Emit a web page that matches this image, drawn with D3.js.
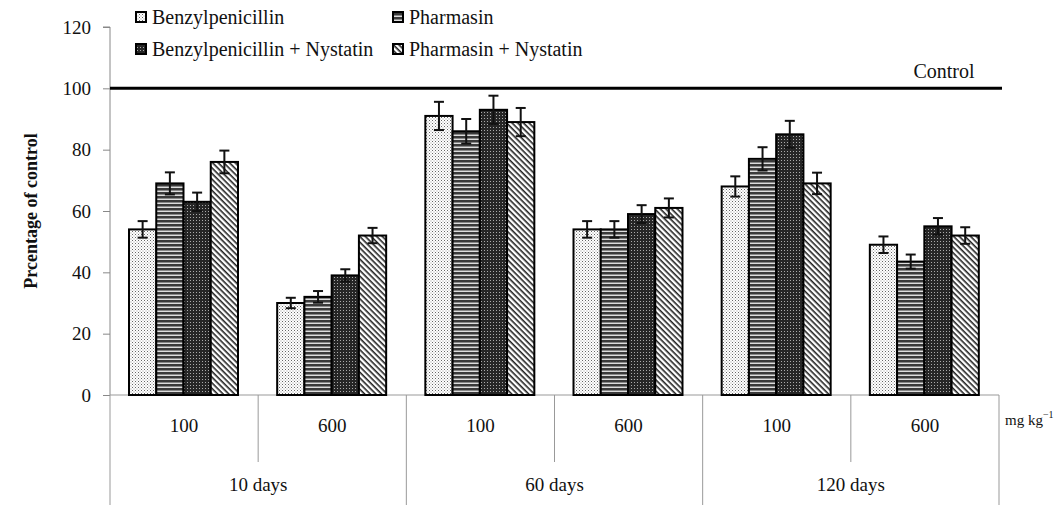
<!DOCTYPE html>
<html>
  <head>
    <meta charset="utf-8">
    <title>Percentage of control</title>
    <script src="https://d3js.org/d3.v7.min.js"></script>
    <style>
      body { margin: 0; background: #fff; }
      svg text { font-family: "Liberation Serif", "DejaVu Serif", serif; fill: #111; }
    </style>
  </head>
  <body>
    <div class="chart"></div>
    <script>
      // categories
      var doses = ["100", "600", "100", "600", "100", "600"];
      var periods = ["10 days", "60 days", "120 days"];
      var seriesNames = ["Benzylpenicillin", "Pharmasin", "Benzylpenicillin + Nystatin", "Pharmasin + Nystatin"];
      var yTicks = [0, 20, 40, 60, 80, 100, 120];
      var controlValue = 100;

      // series values (percentage of control)
      var benzyl = [54, 30, 91, 54, 68, 49];
      var pharmasin = [69, 32, 86, 54, 77, 43.5];
      var benzylNys = [63, 39, 93, 59, 85, 55];
      var pharmasinNys = [76, 52, 89, 61, 69, 52];

      // error bars (+/-)
      var benzylErr = [2.7, 1.7, 4.6, 2.7, 3.3, 2.7];
      var pharmasinErr = [3.6, 1.9, 4.0, 2.7, 3.8, 2.3];
      var benzylNysErr = [3.0, 2.0, 4.6, 2.9, 4.4, 2.7];
      var pharmasinNysErr = [3.7, 2.5, 4.6, 3.1, 3.5, 2.7];

      var values = [benzyl, pharmasin, benzylNys, pharmasinNys];
      var errors = [benzylErr, pharmasinErr, benzylNysErr, pharmasinNysErr];

      var svg = d3.select("div.chart").append("svg")
        .attr("width", 1058)
        .attr("height", 505);

      // fill patterns
      var defs = svg.append("defs");
      var p0 = defs.append("pattern").attr("id", "pat0").attr("width", 3).attr("height", 3)
        .attr("patternUnits", "userSpaceOnUse");
      p0.append("rect").attr("width", 3).attr("height", 3).attr("fill", "#fff");
      p0.append("rect").attr("width", 1).attr("height", 1).attr("fill", "#666");
      p0.append("rect").attr("x", 1.5).attr("y", 1.5).attr("width", 1).attr("height", 1).attr("fill", "#999");

      var p1 = defs.append("pattern").attr("id", "pat1").attr("width", 4).attr("height", 4)
        .attr("patternUnits", "userSpaceOnUse");
      p1.append("rect").attr("width", 4).attr("height", 4).attr("fill", "#ddd");
      p1.append("rect").attr("width", 4).attr("height", 2).attr("fill", "#3a3a3a");
      p1.append("rect").attr("y", 2).attr("width", 4).attr("height", 1).attr("fill", "#888");

      var p2 = defs.append("pattern").attr("id", "pat2").attr("width", 3).attr("height", 3)
        .attr("patternUnits", "userSpaceOnUse");
      p2.append("rect").attr("width", 3).attr("height", 3).attr("fill", "#262626");
      p2.append("rect").attr("x", 1).attr("y", 1).attr("width", 1).attr("height", 1).attr("fill", "#aaa");

      var p3 = defs.append("pattern").attr("id", "pat3").attr("width", 4).attr("height", 4)
        .attr("patternUnits", "userSpaceOnUse").attr("patternTransform", "rotate(45)");
      p3.append("rect").attr("width", 4).attr("height", 4).attr("fill", "#fff");
      p3.append("rect").attr("width", 4).attr("height", 1.6).attr("fill", "#222");

      var plotLeft = 110, plotRight = 999, plotTop = 27, plotBottom = 395;

      var y = d3.scaleLinear().domain([0, 120]).range([plotBottom, plotTop]);
      var x0 = d3.scaleBand().domain(d3.range(doses.length)).range([plotLeft, plotRight]).padding(0);
      var x1 = d3.scaleBand().domain(d3.range(seriesNames.length)).range([19, 128]).padding(0);

      // y axis
      var yAxis = svg.append("g")
        .attr("transform", "translate(" + plotLeft + ",0)")
        .call(d3.axisLeft(y).tickValues(yTicks).tickSize(7).tickPadding(12));
      yAxis.selectAll("path, line").attr("stroke", "#888");
      yAxis.select(".domain").attr("d", "M0," + plotBottom + "V" + plotTop + "H-7");
      yAxis.selectAll("text").style("font-size", "19px").attr("fill", "#111")
        .style("font-family", "Liberation Serif");

      svg.append("text")
        .attr("transform", "translate(37," + ((plotTop + plotBottom) / 2) + ") rotate(-90)")
        .attr("text-anchor", "middle")
        .style("font-size", "18px")
        .style("font-weight", "bold")
        .text("Prcentage of control");

      // x axis line and category separators
      svg.append("line").attr("x1", plotLeft).attr("x2", plotRight)
        .attr("y1", plotBottom).attr("y2", plotBottom).attr("stroke", "#999");

      var doseIdx = d3.range(doses.length);
      svg.selectAll(".dsep").data(doseIdx.filter(function (i) { return i % 2 === 1; }))
        .enter().append("line")
        .attr("x1", function (i) { return x0(i); }).attr("x2", function (i) { return x0(i); })
        .attr("y1", plotBottom).attr("y2", 462).attr("stroke", "#999");

      svg.selectAll(".psep").data(d3.range(periods.length + 1))
        .enter().append("line")
        .attr("x1", function (i) { return i < periods.length ? x0(i * 2) : plotRight; })
        .attr("x2", function (i) { return i < periods.length ? x0(i * 2) : plotRight; })
        .attr("y1", plotBottom).attr("y2", 505).attr("stroke", "#999");

      svg.selectAll(".dlab").data(doses).enter().append("text")
        .attr("x", function (d, i) { return x0(i) + x0.bandwidth() / 2; })
        .attr("y", 432)
        .attr("text-anchor", "middle")
        .style("font-size", "19px")
        .text(function (d) { return d; });

      svg.selectAll(".plab").data(periods).enter().append("text")
        .attr("x", function (d, i) { return x0(i * 2) + x0.bandwidth(); })
        .attr("y", 491)
        .attr("text-anchor", "middle")
        .style("font-size", "19px")
        .text(function (d) { return d; });

      var unit = svg.append("text").attr("x", 1005).attr("y", 425).style("font-size", "15px");
      unit.append("tspan").text("mg kg");
      unit.append("tspan").attr("dy", -7).style("font-size", "10px").text("\u22121");

      // bars
      var groups = svg.selectAll(".series").data(values).enter().append("g");
      groups.selectAll("rect").data(function (d, s) {
        return d.map(function (v, i) { return { s: s, i: i, v: v }; });
      }).enter().append("rect")
        .attr("x", function (d) { return x0(d.i) + x1(d.s); })
        .attr("y", function (d) { return y(d.v); })
        .attr("width", x1.bandwidth())
        .attr("height", function (d) { return y(0) - y(d.v); })
        .attr("fill", function (d) { return "url(#pat" + d.s + ")"; })
        .attr("stroke", "#000")
        .attr("stroke-width", 2);

      // error bars
      var errData = [];
      errors.forEach(function (arr, s) {
        arr.forEach(function (e, i) { errData.push({ s: s, i: i, v: values[s][i], e: e }); });
      });
      var eb = svg.selectAll(".err").data(errData).enter().append("g")
        .attr("stroke", "#111").attr("stroke-width", 2);
      function cx(d) { return x0(d.i) + x1(d.s) + x1.bandwidth() / 2; }
      eb.append("line")
        .attr("x1", cx).attr("x2", cx)
        .attr("y1", function (d) { return y(d.v + d.e); })
        .attr("y2", function (d) { return y(d.v - d.e); });
      eb.append("line")
        .attr("x1", function (d) { return cx(d) - 5; }).attr("x2", function (d) { return cx(d) + 5; })
        .attr("y1", function (d) { return y(d.v + d.e); }).attr("y2", function (d) { return y(d.v + d.e); });
      eb.append("line")
        .attr("x1", function (d) { return cx(d) - 5; }).attr("x2", function (d) { return cx(d) + 5; })
        .attr("y1", function (d) { return y(d.v - d.e); }).attr("y2", function (d) { return y(d.v - d.e); });

      // control line
      svg.append("line")
        .attr("x1", plotLeft).attr("x2", 1002)
        .attr("y1", y(controlValue)).attr("y2", y(controlValue))
        .attr("stroke", "#000").attr("stroke-width", 3);
      svg.append("text")
        .attr("x", 944).attr("y", y(controlValue) - 10)
        .attr("text-anchor", "middle")
        .style("font-size", "20px")
        .text("Control");

      // legend
      var legendPos = [[136, 17], [393, 17], [136, 49], [393, 49]];
      var leg = svg.selectAll(".leg").data(seriesNames).enter().append("g")
        .attr("transform", function (d, i) { return "translate(" + legendPos[i][0] + "," + legendPos[i][1] + ")"; });
      leg.append("rect")
        .attr("x", 0).attr("y", -5).attr("width", 10).attr("height", 10)
        .attr("fill", function (d, i) { return "url(#pat" + i + ")"; })
        .attr("stroke", "#000").attr("stroke-width", 2);
      leg.append("text")
        .attr("x", 16).attr("y", 7)
        .style("font-size", "20px")
        .text(function (d) { return d; });
    </script>
  </body>
</html>
